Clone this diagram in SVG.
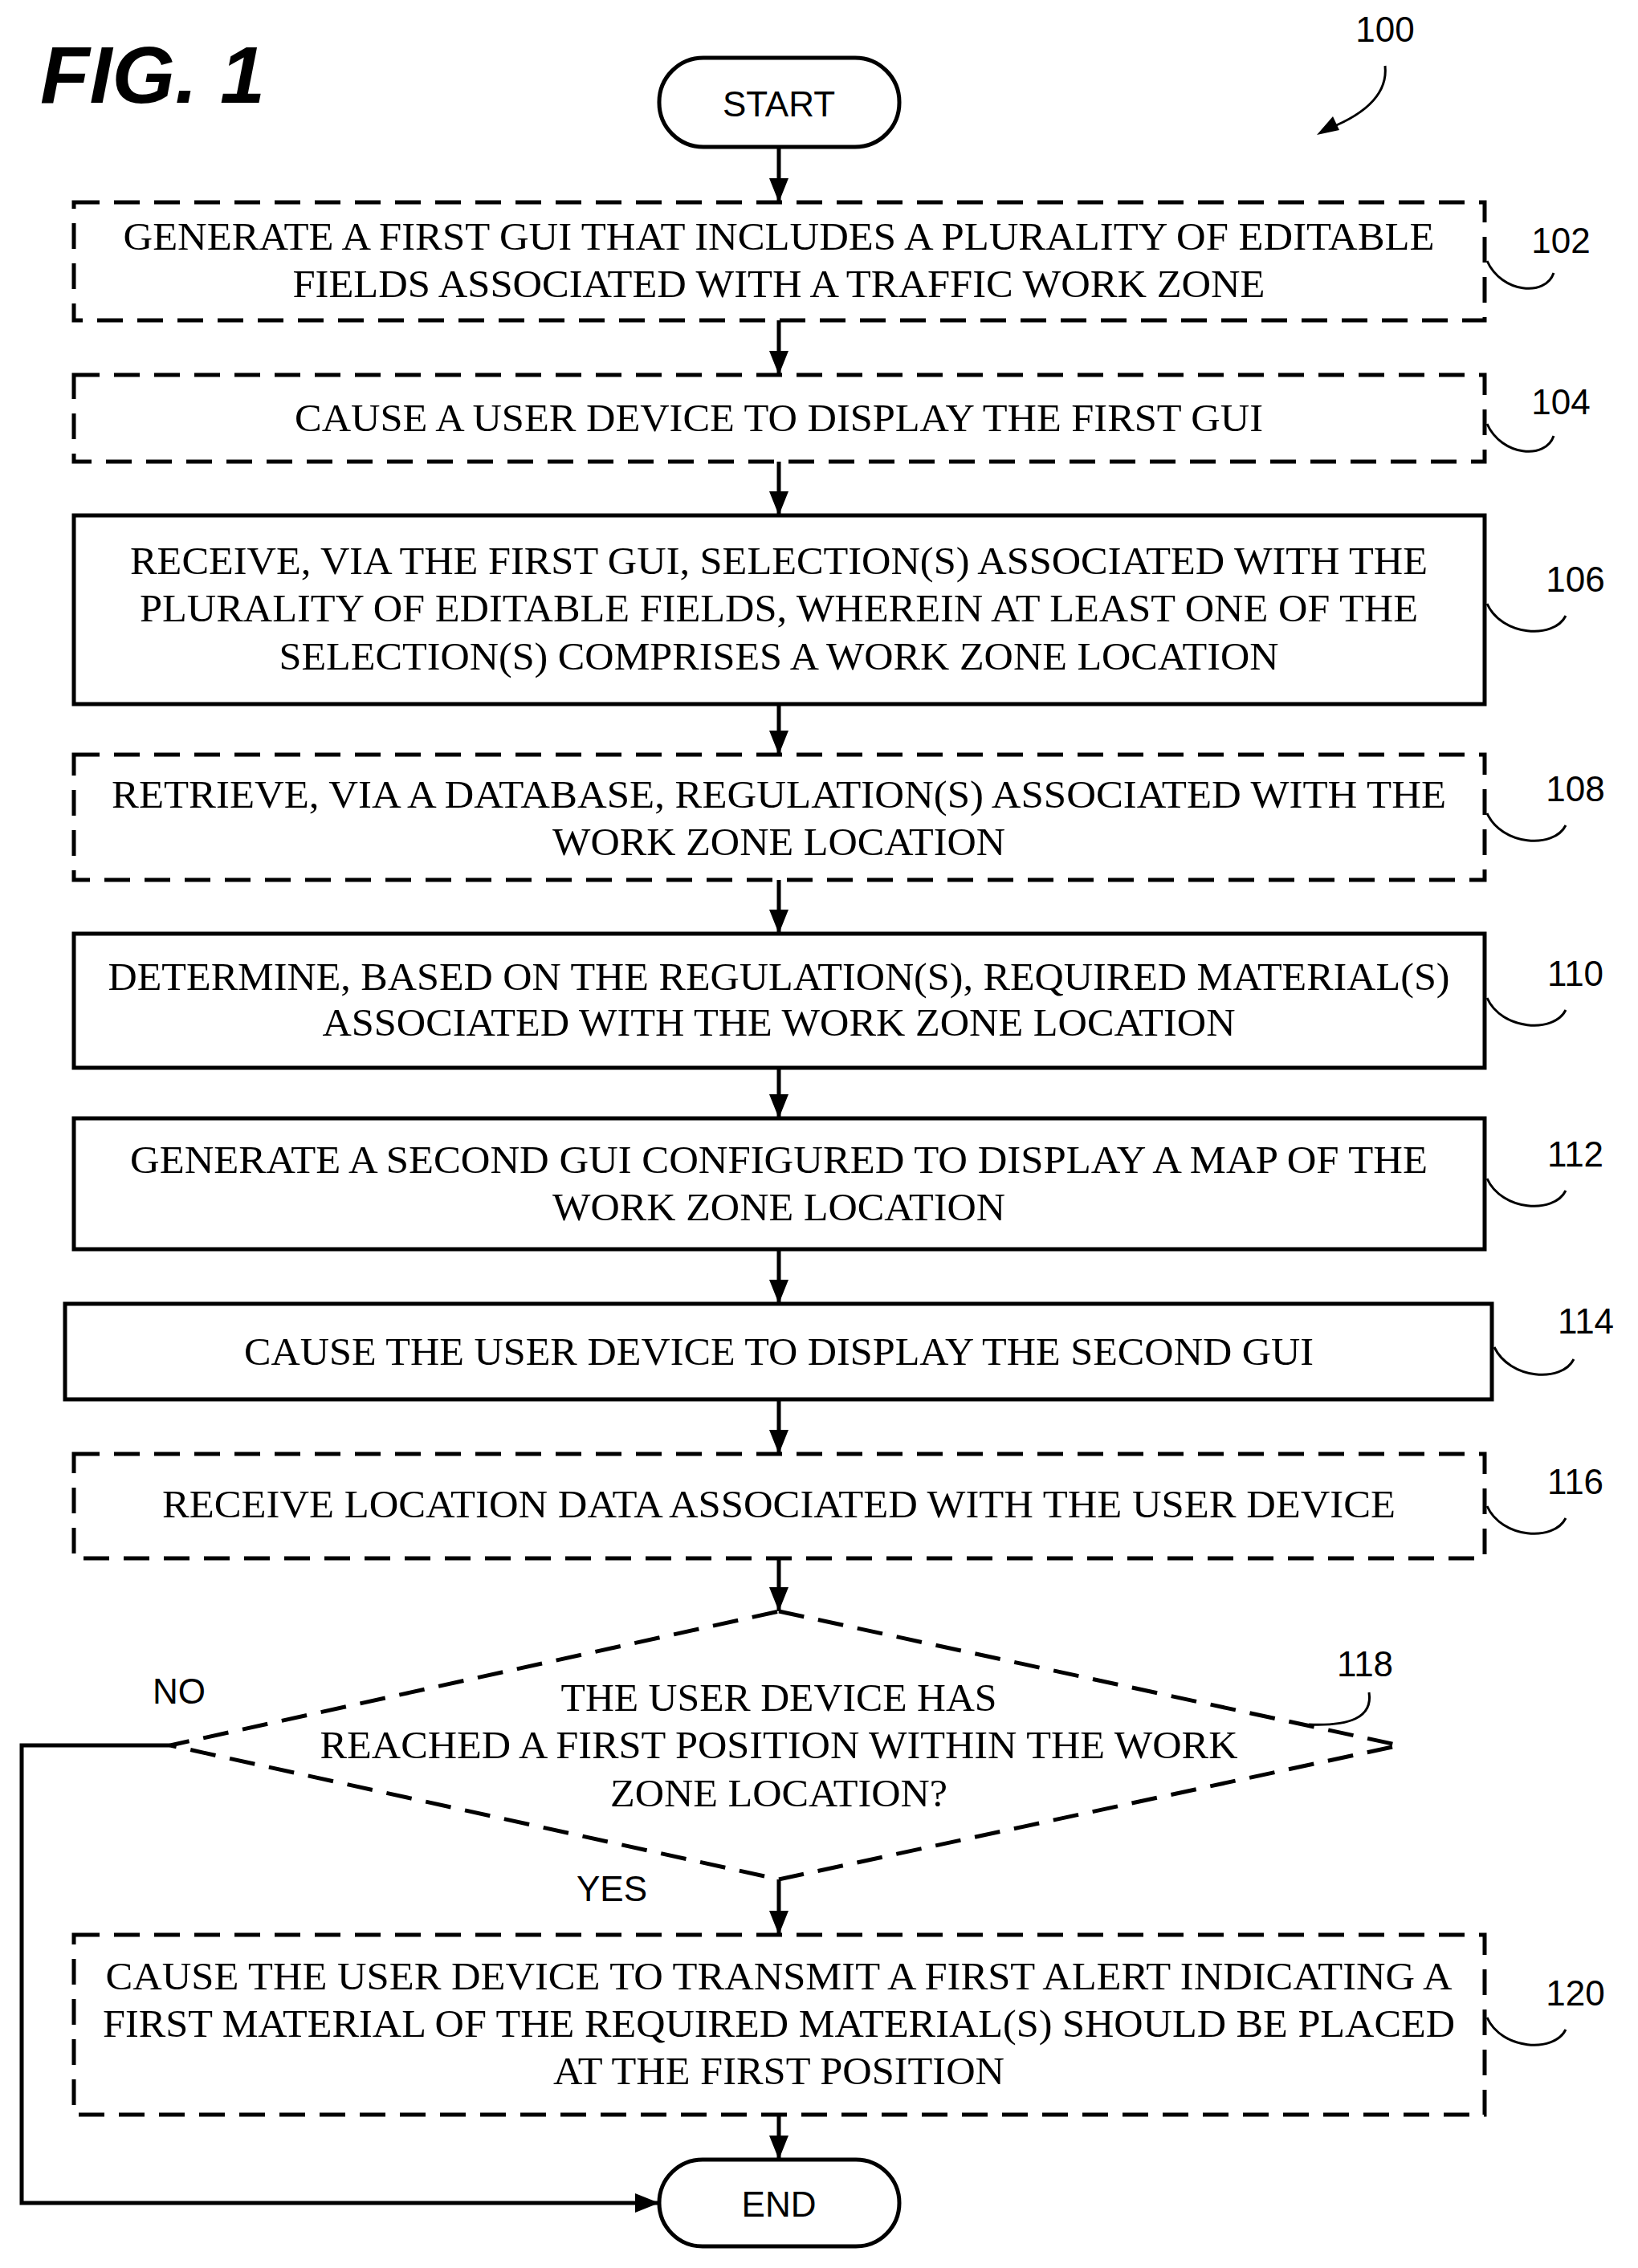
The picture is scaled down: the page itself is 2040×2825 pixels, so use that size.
<svg xmlns="http://www.w3.org/2000/svg" width="2040" height="2825" viewBox="0 0 2040 2825">
<style>
.b{fill:#fff;stroke:#000;stroke-width:5}
.d{stroke-dasharray:32 18}
.t{font-family:"Liberation Serif",serif;font-size:48px;text-anchor:middle}
.s{font-family:"Liberation Sans",Arial,sans-serif;font-size:44px;text-anchor:middle}
.c{fill:none;stroke:#000;stroke-width:5}
.l{fill:none;stroke:#000;stroke-width:3}
</style>
<defs><marker id="a" markerWidth="8" markerHeight="8" refX="7" refY="4" orient="auto" markerUnits="userSpaceOnUse" viewBox="0 0 8 8"><path d="M0,0 L8,4 L0,8Z"/></marker>
<marker id="ah" viewBox="0 0 10 10" refX="10" refY="5" markerWidth="30" markerHeight="30" markerUnits="userSpaceOnUse" orient="auto"><path d="M0,1 L10,5 L0,9Z"/></marker></defs>
<rect width="2040" height="2825" fill="#fff"/>
<text x="50" y="128" font-family="Liberation Sans,Arial,sans-serif" font-size="100" font-weight="bold" font-style="italic" textLength="280" lengthAdjust="spacingAndGlyphs">FIG. 1</text>
<g id="n100"><text x="1725" y="52" class="s">100</text><path class="l" d="M1725,82 Q1730,130 1655,160"/><path d="M1640,168 L1660,145 L1668,162Z"/></g>
<g id="connectors">
<path class="c" marker-end="url(#ah)" d="M970,183 V252"/>
<path class="c" marker-end="url(#ah)" d="M970,399 V467"/>
<path class="c" marker-end="url(#ah)" d="M970,575 V642"/>
<path class="c" marker-end="url(#ah)" d="M970,877 V940"/>
<path class="c" marker-end="url(#ah)" d="M970,1096 V1163"/>
<path class="c" marker-end="url(#ah)" d="M970,1330 V1393"/>
<path class="c" marker-end="url(#ah)" d="M970,1556 V1624"/>
<path class="c" marker-end="url(#ah)" d="M970,1743 V1811"/>
<path class="c" marker-end="url(#ah)" d="M970,1941 V2007"/>
<path class="c" marker-end="url(#ah)" d="M970,2341 V2410"/>
<path class="c" marker-end="url(#ah)" d="M970,2634 V2690"/>
<path class="c" marker-end="url(#ah)" d="M212,2174 H27 V2744 H821"/>
</g>
<g id="start"><rect class="b" x="821" y="72" width="299" height="111" rx="55"/><text x="970" y="145" class="s" font-size="48">START</text></g>
<g id="n102"><rect class="b d" x="92" y="252" width="1757" height="147"/><text class="t" x="970" y="311" textLength="1633" lengthAdjust="spacingAndGlyphs">GENERATE A FIRST GUI THAT INCLUDES A PLURALITY OF EDITABLE</text><text class="t" x="970" y="370" textLength="1211" lengthAdjust="spacingAndGlyphs">FIELDS ASSOCIATED WITH A TRAFFIC WORK ZONE</text><text class="s" x="1944" y="315">102</text><path class="l" d="M1852,325 C1870,365 1925,370 1935,340"/></g>
<g id="n104"><rect class="b d" x="92" y="467" width="1757" height="108"/><text class="t" x="970" y="537" textLength="1206" lengthAdjust="spacingAndGlyphs">CAUSE A USER DEVICE TO DISPLAY THE FIRST GUI</text><text class="s" x="1944" y="516">104</text><path class="l" d="M1852,528 C1870,568 1925,573 1935,543"/></g>
<g id="n106"><rect class="b" x="92" y="642" width="1757" height="235"/><text class="t" x="970" y="715" textLength="1616" lengthAdjust="spacingAndGlyphs">RECEIVE, VIA THE FIRST GUI, SELECTION(S) ASSOCIATED WITH THE</text><text class="t" x="970" y="774" textLength="1592" lengthAdjust="spacingAndGlyphs">PLURALITY OF EDITABLE FIELDS, WHEREIN AT LEAST ONE OF THE</text><text class="t" x="970" y="834" textLength="1245" lengthAdjust="spacingAndGlyphs">SELECTION(S) COMPRISES A WORK ZONE LOCATION</text><text class="s" x="1962" y="737">106</text><path class="l" d="M1852,752 C1870,792 1935,797 1950,767"/></g>
<g id="n108"><rect class="b d" x="92" y="940" width="1757" height="156"/><text class="t" x="970" y="1006" textLength="1662" lengthAdjust="spacingAndGlyphs">RETRIEVE, VIA A DATABASE, REGULATION(S) ASSOCIATED WITH THE</text><text class="t" x="970" y="1065" textLength="564" lengthAdjust="spacingAndGlyphs">WORK ZONE LOCATION</text><text class="s" x="1962" y="998">108</text><path class="l" d="M1852,1013 C1870,1053 1935,1058 1950,1028"/></g>
<g id="n110"><rect class="b" x="92" y="1163" width="1757" height="167"/><text class="t" x="970" y="1233" textLength="1671" lengthAdjust="spacingAndGlyphs">DETERMINE, BASED ON THE REGULATION(S), REQUIRED MATERIAL(S)</text><text class="t" x="970" y="1290" textLength="1137" lengthAdjust="spacingAndGlyphs">ASSOCIATED WITH THE WORK ZONE LOCATION</text><text class="s" x="1962" y="1228">110</text><path class="l" d="M1852,1243 C1870,1283 1935,1288 1950,1258"/></g>
<g id="n112"><rect class="b" x="92" y="1393" width="1757" height="163"/><text class="t" x="970" y="1461" textLength="1616" lengthAdjust="spacingAndGlyphs">GENERATE A SECOND GUI CONFIGURED TO DISPLAY A MAP OF THE</text><text class="t" x="970" y="1520" textLength="564" lengthAdjust="spacingAndGlyphs">WORK ZONE LOCATION</text><text class="s" x="1962" y="1453">112</text><path class="l" d="M1852,1468 C1870,1508 1935,1513 1950,1483"/></g>
<g id="n114"><rect class="b" x="81" y="1624" width="1777" height="119"/><text class="t" x="970" y="1700" textLength="1332" lengthAdjust="spacingAndGlyphs">CAUSE THE USER DEVICE TO DISPLAY THE SECOND GUI</text><text class="s" x="1975" y="1661">114</text><path class="l" d="M1861,1678 C1880,1718 1945,1723 1960,1693"/></g>
<g id="n116"><rect class="b d" x="92" y="1811" width="1757" height="130"/><text class="t" x="970" y="1890" textLength="1536" lengthAdjust="spacingAndGlyphs">RECEIVE LOCATION DATA ASSOCIATED WITH THE USER DEVICE</text><text class="s" x="1962" y="1861">116</text><path class="l" d="M1852,1876 C1870,1916 1935,1921 1950,1891"/></g>
<g id="n118"><polygon class="b d" points="970,2007 1743,2174 970,2341 212,2174"/><text class="t" x="970" y="2131" textLength="543" lengthAdjust="spacingAndGlyphs">THE USER DEVICE HAS</text><text class="t" x="970" y="2190" textLength="1143" lengthAdjust="spacingAndGlyphs">REACHED A FIRST POSITION WITHIN THE WORK</text><text class="t" x="970" y="2250" textLength="420" lengthAdjust="spacingAndGlyphs">ZONE LOCATION?</text><text class="s" x="1700" y="2088">118</text><path class="l" d="M1705,2108 C1710,2140 1680,2150 1630,2148"/><text class="s" x="223" y="2122">NO</text><text class="s" x="762" y="2368">YES</text></g>
<g id="n120"><rect class="b d" x="92" y="2410" width="1757" height="224"/><text class="t" x="970" y="2478" textLength="1677" lengthAdjust="spacingAndGlyphs">CAUSE THE USER DEVICE TO TRANSMIT A FIRST ALERT INDICATING A</text><text class="t" x="970" y="2537" textLength="1684" lengthAdjust="spacingAndGlyphs">FIRST MATERIAL OF THE REQUIRED MATERIAL(S) SHOULD BE PLACED</text><text class="t" x="970" y="2596" textLength="562" lengthAdjust="spacingAndGlyphs">AT THE FIRST POSITION</text><text class="s" x="1962" y="2498">120</text><path class="l" d="M1852,2513 C1870,2553 1935,2558 1950,2528"/></g>
<g id="end"><rect class="b" x="821" y="2690" width="299" height="108" rx="54"/><text x="970" y="2761" class="s" font-size="48">END</text></g>
</svg>
